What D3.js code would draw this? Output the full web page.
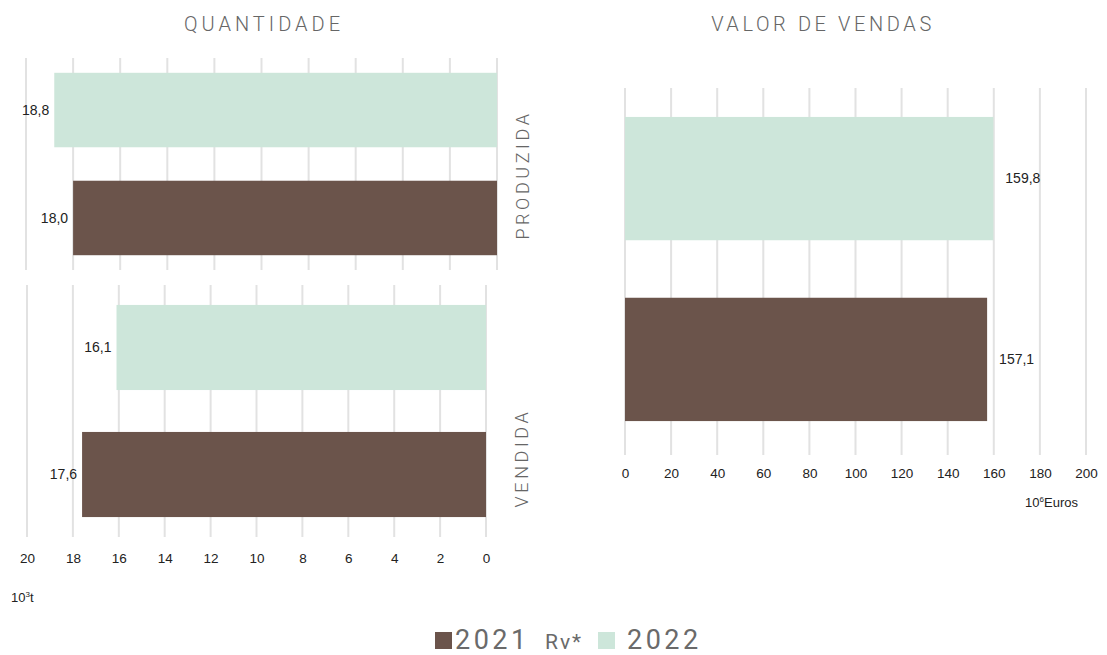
<!DOCTYPE html>
<html>
<head>
<meta charset="utf-8">
<script src="https://d3js.org/d3.v7.min.js"></script>
<style>
  body { margin: 0; background: #fff; }
  text { font-family: "Liberation Sans", Arial, sans-serif; }
  .title, .cat, .legend { font-family: Roboto, "Noto Sans", sans-serif; font-weight: 300; fill: #666; }
  .legend { font-weight: 400; fill: #6a6a6a; }
</style>
</head>
<body>
<script>
// data
var years = ["2022", "2021 Rv*"];          // top to bottom
var produzida = [18.8, 18.0];              // 10^3 t
var vendida = [16.1, 17.6];                // 10^3 t
var valor = [159.8, 157.1];                // 10^6 Euros
var qtdTicks = [20, 18, 16, 14, 12, 10, 8, 6, 4, 2, 0];
var valTicks = [0, 20, 40, 60, 80, 100, 120, 140, 160, 180, 200];
var legendYears = ["2021", "2022"];

var W = 1107, H = 655;
var color = d3.scaleOrdinal().domain(["2021 Rv*", "2022"]).range(["#6b544b", "#cde6da"]);

var svg = d3.select("body").append("svg")
  .attr("width", W).attr("height", H);

// draws one horizontal bar panel
function panel(values, x, ticks, y0, y1, gridEnd, pIn, pOut, labelSide) {
  var y = d3.scaleBand().domain(years).range([y0, y1])
    .paddingInner(pIn).paddingOuter(pOut);
  var g = svg.append("g");
  // gridlines
  g.selectAll("line.grid")
    .data(ticks)
    .enter().append("line")
    .attr("x1", function(d) { return x(d); })
    .attr("x2", function(d) { return x(d); })
    .attr("y1", y0).attr("y2", gridEnd)
    .attr("stroke", "#e2e2e2").attr("stroke-width", 2);
  var rows = g.selectAll("g.row").data(years).enter().append("g");
  rows.append("rect")
    .attr("x", function(d, i) { return Math.min(x(0), x(values[i])); })
    .attr("width", function(d, i) { return Math.abs(x(values[i]) - x(0)); })
    .attr("y", function(d) { return y(d); })
    .attr("height", y.bandwidth())
    .attr("fill", function(d) { return color(d); });
  rows.append("text")
    .attr("x", function(d, i) { return labelSide === "left" ? x(values[i]) - 5 : x(values[i]) + 12; })
    .attr("y", function(d) { return y(d) + y.bandwidth() / 2; })
    .attr("dy", "0.35em")
    .attr("text-anchor", labelSide === "left" ? "end" : "start")
    .attr("font-size", 14).attr("fill", "#222")
    .text(function(d, i) { return d3.format(".1f")(values[i]).replace(".", ","); });
  return g;
}

// QUANTIDADE - produzida
var xTop = d3.scaleLinear().domain([20, 0]).range([26, 497]);
panel(produzida, xTop, qtdTicks, 58, 270, 270, 0.31, 0.137, "left");

// QUANTIDADE - vendida
var xBot = d3.scaleLinear().domain([20, 0]).range([27, 486]);
panel(vendida, xBot, qtdTicks, 285, 537, 537, 0.33, 0.157, "left");

svg.append("g")
  .attr("transform", "translate(0,550)")
  .call(d3.axisBottom(xBot).tickValues(qtdTicks).tickSize(0).tickFormat(d3.format("d")))
  .call(function(a) {
    a.select(".domain").remove();
    a.selectAll("text").attr("font-size", 13.5).attr("fill", "#222")
      .attr("font-family", "Liberation Sans, Arial, sans-serif");
  });

var unitL = svg.append("text").attr("x", 11).attr("y", 602).attr("font-size", 13).attr("fill", "#222");
unitL.append("tspan").text("10");
unitL.append("tspan").attr("dy", -5).attr("font-size", 8).text("3");
unitL.append("tspan").attr("dy", 5).text("t");

// VALOR DE VENDAS
var xR = d3.scaleLinear().domain([0, 200]).range([625, 1086]);
panel(valor, xR, valTicks, 88, 450, 455, 0.318, 0.16, "right");

svg.append("g")
  .attr("transform", "translate(0,465)")
  .call(d3.axisBottom(xR).tickValues(valTicks).tickSize(0))
  .call(function(a) {
    a.select(".domain").remove();
    a.selectAll("text").attr("font-size", 13.5).attr("fill", "#222")
      .attr("font-family", "Liberation Sans, Arial, sans-serif");
  });

var unitR = svg.append("text").attr("x", 1078).attr("y", 507)
  .attr("text-anchor", "end").attr("font-size", 13).attr("fill", "#222");
unitR.append("tspan").text("10");
unitR.append("tspan").attr("dy", -5).attr("font-size", 8).text("6");
unitR.append("tspan").attr("dy", 5).text("Euros");

// titles
svg.append("text").attr("class", "title").attr("x", 264).attr("y", 31)
  .attr("text-anchor", "middle").attr("font-size", 20).attr("letter-spacing", 4)
  .text("QUANTIDADE");
svg.append("text").attr("class", "title").attr("x", 823).attr("y", 31)
  .attr("text-anchor", "middle").attr("font-size", 20).attr("letter-spacing", 3.6)
  .text("VALOR DE VENDAS");

// category labels
svg.append("text").attr("class", "cat")
  .attr("transform", "translate(529,175) rotate(-90)")
  .attr("text-anchor", "middle").attr("font-size", 18).attr("letter-spacing", 3.6)
  .text("PRODUZIDA");
svg.append("text").attr("class", "cat")
  .attr("transform", "translate(528,458) rotate(-90)")
  .attr("text-anchor", "middle").attr("font-size", 18).attr("letter-spacing", 3.6)
  .text("VENDIDA");

// legend
var lg = svg.append("g");
lg.append("rect").attr("x", 435).attr("y", 632).attr("width", 17).attr("height", 17).attr("fill", color("2021 Rv*"));
lg.append("text").attr("class", "legend").attr("x", 455).attr("y", 649).attr("font-size", 27).attr("letter-spacing", 3.5)
  .text(legendYears[0]);
lg.append("text").attr("class", "legend").attr("x", 545).attr("y", 649).attr("font-size", 21).attr("letter-spacing", 2)
  .text("Rv*");
lg.append("rect").attr("x", 598).attr("y", 632).attr("width", 17).attr("height", 17).attr("fill", color("2022"));
lg.append("text").attr("class", "legend").attr("x", 627).attr("y", 649).attr("font-size", 27).attr("letter-spacing", 3.5)
  .text(legendYears[1]);
</script>
</body>
</html>
